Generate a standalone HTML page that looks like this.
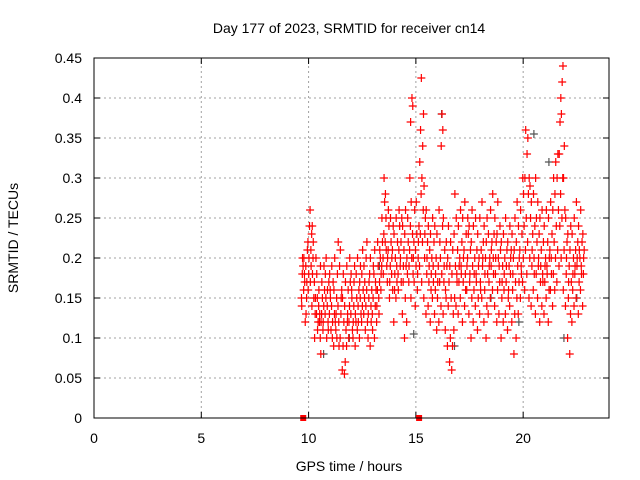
<!DOCTYPE html>
<html><head><meta charset="utf-8"><style>
body{margin:0;background:#fff;}
svg{display:block;font-family:"Liberation Sans",sans-serif;}
</style></head><body>
<svg id="chart" width="640" height="480" viewBox="0 0 640 480">
<rect width="640" height="480" fill="#fff"/>
<text x="349" y="33" font-size="14" text-anchor="middle">Day 177 of 2023, SRMTID for receiver cn14</text>
<text x="349" y="471" font-size="14" text-anchor="middle">GPS time / hours</text>
<text transform="translate(18,238) rotate(-90)" font-size="14" text-anchor="middle">SRMTID / TECUs</text>
<g id="grid"></g><g id="ticks"></g><g id="gray"></g><g id="red"></g>
<rect x="94" y="58" width="515" height="360" fill="none" stroke="#000" stroke-width="1"/>
</svg>
<script>
const xTicks=[0,5,10,15,20];
const yTicks=[0,0.05,0.1,0.15,0.2,0.25,0.3,0.35,0.4,0.45];
const yTickLabels=["0","0.05","0.1","0.15","0.2","0.25","0.3","0.35","0.4","0.45"];
const zeroHours=[9.75,15.15];
const times=[9.7,9.8,9.9,10.0,10.1,10.2,10.3,10.4,10.5,10.6,10.7,10.8,10.9,11.0,11.1,11.2,11.3,11.4,11.5,11.6,11.7,11.8,11.9,12.0,12.1,12.2,12.3,12.4,12.5,12.6,12.7,12.8,12.9,13.0,13.1,13.2,13.3,13.4,13.5,13.6,13.7,13.8,13.9,14.0,14.1,14.2,14.3,14.4,14.5,14.6,14.7,14.8,14.9,15.0,15.1,15.2,15.3,15.4,15.5,15.6,15.7,15.8,15.9,16.0,16.1,16.2,16.3,16.4,16.5,16.6,16.7,16.8,16.9,17.0,17.1,17.2,17.3,17.4,17.5,17.6,17.7,17.8,17.9,18.0,18.1,18.2,18.3,18.4,18.5,18.6,18.7,18.8,18.9,19.0,19.1,19.2,19.3,19.4,19.5,19.6,19.7,19.8,19.9,20.0,20.1,20.2,20.3,20.4,20.5,20.6,20.7,20.8,20.9,21.0,21.1,21.2,21.3,21.4,21.5,21.6,21.7,21.8,21.9,22.0,22.1,22.2,22.3,22.4,22.5,22.6,22.7,22.8];
const values=[
[.15,.18,.19,.14,.2],[.16,.18,.12,.2,.17],[.19,.15,.21,.13,.17],[.22,.18,.24,.16,.2],[.26,.21,.23,.17,.19,.14],[.24,.2,.15,.18,.22],[.17,.13,.2,.1,.15],[.13,.15,.12,.18,.11],[.14,.12,.1,.16,.13,.19],[.08,.13,.15,.12,.17],[.11,.14,.16,.12,.19],[.13,.15,.1,.18,.2],[.14,.12,.17,.16,.11],[.13,.16,.11,.18,.15],[.14,.1,.17,.19,.12],[.09,.13,.12,.16,.2],[.11,.15,.18,.13,.1],[.14,.12,.19,.22,.09],[.1,.13,.16,.21,.15],[.06,.09,.12,.15,.18],[.055,.07,.11,.14,.17],[.09,.12,.16,.19,.13],[.1,.14,.17,.12,.2],[.13,.16,.11,.18,.15],[.1,.14,.19,.12,.17],[.09,.12,.15,.13,.18],[.11,.14,.16,.2,.12],[.1,.15,.13,.17,.19],[.12,.14,.16,.18,.21],[.13,.15,.11,.19,.17],[.14,.16,.12,.2,.22],[.1,.15,.18,.13,.17],[.09,.14,.16,.2,.12],[.13,.15,.18,.11,.19],[.1,.14,.16,.21,.17],[.12,.16,.19,.14,.22],[.15,.17,.2,.13,.21],[.16,.19,.22,.18,.25],[.2,.23,.27,.18,.3],[.22,.25,.19,.28,.21],[.17,.21,.24,.2,.26],[.15,.19,.22,.17,.25],[.18,.21,.24,.2,.16],[.12,.16,.2,.23,.18],[.15,.19,.22,.25,.17],[.18,.21,.24,.16,.26],[.19,.22,.25,.2,.17],[.13,.17,.21,.24,.19],[.1,.15,.19,.23,.26],[.12,.18,.22,.2,.25],[.17,.21,.24,.19,.3,.37],[.15,.2,.23,.27,.4,.39],[.18,.22,.26,.2,.17],[.14,.19,.23,.21,.27],[.16,.2,.24,.18,.22],[.19,.23,.28,.32,.36,.425],[.17,.22,.26,.3,.34,.38],[.15,.2,.25,.29,.23],[.13,.18,.22,.26,.2],[.14,.17,.21,.24,.19],[.12,.16,.2,.23,.18],[.15,.19,.22,.25,.17],[.13,.16,.2,.24,.18],[.11,.15,.19,.23,.17],[.12,.17,.2,.26,.22],[.14,.18,.24,.34,.38,.36],[.13,.17,.21,.25,.19],[.11,.15,.19,.16,.22],[.09,.14,.17,.2,.24],[.07,.1,.15,.19,.22],[.06,.09,.13,.18,.21],[.11,.15,.19,.23,.28],[.14,.18,.21,.25,.17],[.13,.17,.2,.24,.19],[.15,.19,.22,.26,.18],[.12,.17,.21,.25,.2],[.14,.18,.23,.27,.16],[.16,.2,.23,.19,.25],[.13,.17,.21,.24,.18],[.1,.15,.19,.22,.26],[.12,.16,.2,.24,.18],[.14,.18,.21,.25,.17],[.11,.15,.2,.23,.19],[.13,.17,.21,.25,.16],[.15,.19,.22,.27,.2],[.12,.16,.2,.24,.18],[.1,.14,.18,.22,.25],[.13,.17,.2,.23,.19],[.15,.19,.22,.26,.21],[.16,.2,.23,.28,.18],[.14,.18,.22,.25,.2],[.12,.16,.2,.23,.27],[.13,.17,.21,.19,.24],[.1,.15,.19,.22,.17],[.12,.16,.2,.23,.18],[.13,.17,.21,.25,.19],[.11,.15,.19,.22,.16],[.14,.18,.21,.24,.2],[.12,.16,.2,.23,.18],[.08,.13,.17,.21,.25],[.1,.15,.19,.22,.27],[.13,.17,.21,.24,.2],[.15,.19,.23,.26,.18],[.17,.2,.24,.3,.28],[.16,.21,.25,.3,.36],[.18,.22,.28,.33,.35],[.15,.2,.25,.3,.29],[.14,.19,.23,.27,.21],[.16,.2,.24,.28,.18],[.13,.18,.22,.3,.25],[.15,.19,.23,.27,.2],[.12,.17,.21,.25,.19],[.14,.18,.22,.26,.17],[.13,.17,.2,.24,.19],[.15,.19,.22,.26,.18],[.12,.16,.21,.25,.2],[.16,.2,.23,.27,.18],[.14,.18,.22,.26,.3],[.16,.2,.24,.28,.32],[.17,.21,.26,.3,.33],[.19,.24,.28,.33,.37,.4],[.2,.25,.3,.38,.42,.44],[.16,.21,.26,.3,.34],[.14,.18,.22,.25,.2],[.1,.15,.19,.23,.17],[.08,.13,.17,.21,.24],[.12,.16,.2,.23,.18],[.14,.18,.21,.25,.19],[.15,.19,.22,.27,.2],[.13,.17,.2,.24,.21],[.16,.19,.22,.26,.18],[.14,.18,.21,.23,.2],[.17,.19,.22,.24,.15]
];
const grayTimes=[10.7,11.9,13.3,14.9,16.2,16.8,18.5,19.8,20.5,21.2,21.9,22.5];
const grayValues=[.08,.1,.19,.105,.38,.09,.15,.12,.355,.32,.1,.15];

const svg=document.getElementById('chart');
const NS='http://www.w3.org/2000/svg';
const X0=94,X1=609,Y0=418,Y1=58,XMAX=24,YMAX=0.45;
function xs(h){return X0+(X1-X0)*h/XMAX;}
function ys(v){return Y0-(Y0-Y1)*v/YMAX;}
function mk(tag,attrs,parent){const e=document.createElementNS(NS,tag);for(const k in attrs)e.setAttribute(k,attrs[k]);parent.appendChild(e);return e;}
const grid=document.getElementById('grid'),ticks=document.getElementById('ticks');
xTicks.forEach(t=>{const x=xs(t);
 if(t>0){const g=mk('line',{x1:x,y1:Y0,x2:x,y2:Y1,stroke:'#a0a0a0','stroke-dasharray':'2,3'},grid);
 
 }
 mk('line',{x1:x,y1:Y0,x2:x,y2:Y0-6,stroke:'#000'},ticks);
 mk('line',{x1:x,y1:Y1,x2:x,y2:Y1+6,stroke:'#000'},ticks);
 const l=mk('text',{x:x,y:443,'font-size':14,'text-anchor':'middle'},ticks);l.textContent=t;
 
 });
yTicks.forEach((t,i)=>{const y=ys(t);
 if(t>0){const g=mk('line',{x1:X0,y1:y,x2:X1,y2:y,stroke:'#a0a0a0','stroke-dasharray':'2,3'},grid);
 
 }
 mk('line',{x1:X0,y1:y,x2:X0+6,y2:y,stroke:'#000'},ticks);
 mk('line',{x1:X1,y1:y,x2:X1-6,y2:y,stroke:'#000'},ticks);
 const l=mk('text',{x:82,y:y+5,'font-size':14,'text-anchor':'end'},ticks);l.textContent=yTickLabels[i];
 
 });
function cross(parent,h,v,col,name){const x=xs(h),y=ys(v);
 const p=mk('path',{d:`M${x-4},${y}h8M${x},${y-4}v8`,stroke:col,'stroke-width':1.2,fill:'none'},parent);
 
 }
const gray=document.getElementById('gray'),red=document.getElementById('red');
grayTimes.forEach((h,i)=>cross(gray,h,grayValues[i],'#555','gray-point'));
times.forEach((h,i)=>{const col=values[i]||[];col.forEach((v,j)=>cross(red,h+((j*0.037)%0.1)-0.03,v,'#ff0000','red-point'));});
zeroHours.forEach(h=>{const r=mk('rect',{x:xs(h)-3,y:Y0-3,width:6,height:6,fill:'#ff0000'},red);
 
 });
</script>
</body></html>
